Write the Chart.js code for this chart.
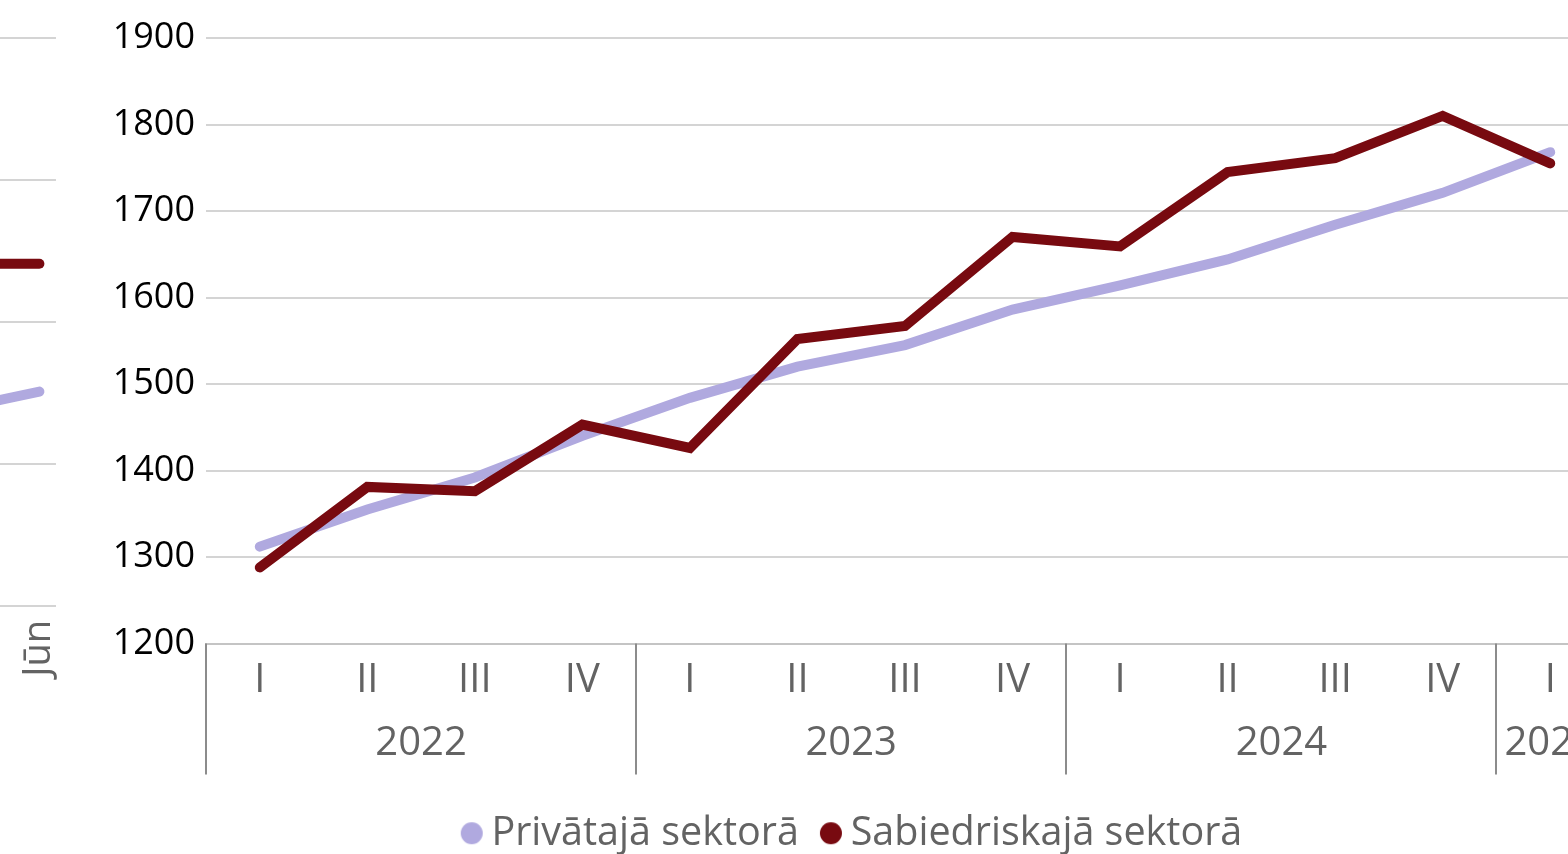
<!DOCTYPE html>
<html>
<head>
<meta charset="utf-8">
<script src="https://cdn.jsdelivr.net/npm/chart.js@4"></script>
<style>
  html, body { margin: 0; padding: 0; background: #fff; width: 1568px; height: 854px; overflow: hidden; position: relative; }
  #leftWrap { position: absolute; left: -209px; top: 0; width: 300px; height: 854px; }
  #mainWrap { position: absolute; left: 60px; top: 0; width: 1572px; height: 854px; }
</style>
</head>
<body>
<div id="leftWrap"><canvas id="leftChart" width="300" height="854"></canvas></div>
<div id="mainWrap"><canvas id="mainChart" width="1572" height="854"></canvas></div>
<script>
// ---- main chart data ----
const quarters = ['I','II','III','IV','I','II','III','IV','I','II','III','IV','I'];
const years = ['2022','2023','2024','2025'];
const yearSpans = [4, 4, 4, 1];
const privateSector = [1312,1355,1392,1440,1484,1520,1545,1586,1614,1644,1684,1721,1768];
const publicSector = [1288,1381,1376,1453,1426,1552,1567,1670,1659,1745,1761,1810,1755];
const yTicks = [1200,1300,1400,1500,1600,1700,1800,1900];

// ---- fragment of neighbouring chart (left edge) ----
const leftMonths = ['Nov','Dec','Jan','Feb','Mar','Apr','Mai','Jūn'];
const leftPrivate = [null,null,null,null,null,1.41,1.46,1.51];
const leftPublic = [null,null,null,null,null,2.41,2.41,2.41];

const FONT = '"Open Sans", "Noto Sans", sans-serif';
const PURPLE = '#b0a9df';
const RED = '#780a10';
const GRID = '#d4d4d4';
const AXISGREY = '#8c8c8c';
const TEXTGREY = '#636363';
const LW = 10;

Chart.defaults.font.family = FONT;
Chart.defaults.animation = false;

// legend marker: 22px circle shifted right inside its image
function marker(color) {
  const c = document.createElement('canvas');
  c.width = 46; c.height = 24;
  const g = c.getContext('2d');
  g.fillStyle = color;
  g.beginPath();
  g.arc(34, 12, 11, 0, Math.PI * 2);
  g.fill();
  return c;
}
const markers = [marker(PURPLE), marker(RED)];

// Left fragment chart (labels shown every second month)
new Chart(document.getElementById('leftChart'), {
  type: 'line',
  data: {
    labels: leftMonths,
    datasets: [
      { label: 'a', data: leftPublic, borderColor: RED, borderWidth: LW, pointRadius: 0, borderCapStyle: 'round', order: 0 },
      { label: 'b', data: leftPrivate, borderColor: PURPLE, borderWidth: LW, pointRadius: 0, borderCapStyle: 'round', order: 1 }
    ]
  },
  options: {
    responsive: false,
    animation: false,
    layout: { padding: { top: 38, left: 0, right: 0, bottom: 0 } },
    plugins: { legend: { display: false }, tooltip: { enabled: false } },
    scales: {
      x: {
        offset: true,
        grid: { display: false },
        border: { display: true, color: GRID, width: 2 },
        ticks: { color: TEXTGREY, font: { size: 38 }, minRotation: 90, maxRotation: 90, padding: 6, autoSkip: false,
                 callback: function (v, i) { return (leftMonths.length - 1 - i) % 2 === 0 ? this.getLabelForValue(v) : ''; } },
        afterFit: (s) => { s.height = 248; }
      },
      y: {
        min: 0, max: 4,
        ticks: { display: false, stepSize: 1 },
        grid: { color: GRID, lineWidth: 2, drawTicks: false },
        border: { display: false },
        afterFit: (s) => { s.width = 0; }
      }
    }
  }
});

// plugin: year group labels and dividers
const groupAxis = {
  id: 'groupAxis',
  afterDraw(chart) {
    const x = chart.scales.x;
    const ctx = chart.ctx;
    const band = x.getPixelForValue(1) - x.getPixelForValue(0);
    const top = chart.chartArea.bottom;
    ctx.save();
    ctx.strokeStyle = AXISGREY;
    ctx.lineWidth = 2;
    let idx = 0;
    const drawDiv = (px) => {
      ctx.beginPath();
      ctx.moveTo(Math.round(px), top);
      ctx.lineTo(Math.round(px), top + 131);
      ctx.stroke();
    };
    ctx.fillStyle = TEXTGREY;
    ctx.font = '40px ' + FONT;
    ctx.textAlign = 'center';
    ctx.textBaseline = 'middle';
    years.forEach((yr, g) => {
      const first = idx, last = idx + yearSpans[g] - 1;
      const p0 = x.getPixelForValue(first), p1 = x.getPixelForValue(last);
      drawDiv(p0 - band / 2);
      ctx.fillText(yr, (p0 + p1) / 2, top + 100);
      idx += yearSpans[g];
    });
    drawDiv(x.getPixelForValue(idx - 1) + band / 2);
    ctx.restore();
  }
};

new Chart(document.getElementById('mainChart'), {
  type: 'line',
  data: {
    labels: quarters,
    datasets: [
      { label: 'Privātajā sektorā', data: privateSector, borderColor: PURPLE, backgroundColor: PURPLE,
        borderWidth: LW, pointRadius: 0, borderCapStyle: 'round', borderJoinStyle: 'miter', order: 1 },
      { label: 'Sabiedriskajā sektorā', data: publicSector, borderColor: RED, backgroundColor: RED,
        borderWidth: LW, pointRadius: 0, borderCapStyle: 'round', borderJoinStyle: 'miter', order: 0 }
    ]
  },
  options: {
    responsive: false,
    animation: false,
    layout: { padding: { top: 38, left: 0, right: 0, bottom: -9 } },
    plugins: {
      tooltip: { enabled: false },
      legend: {
        position: 'bottom',
        labels: {
          color: TEXTGREY,
          font: { size: 39.5 },
          usePointStyle: true,
          boxHeight: 22,
          pointStyleWidth: 22,
          padding: 10,
          generateLabels: (chart) => chart.data.datasets.map((ds, i) => ({
            text: ds.label, fillStyle: ds.borderColor, strokeStyle: ds.borderColor,
            lineWidth: 0, pointStyle: markers[i], datasetIndex: i, hidden: false,
            fontColor: TEXTGREY
          }))
        }
      }
    },
    scales: {
      x: {
        offset: true,
        grid: { display: false },
        border: { display: true, color: '#c4c4c4', width: 2 },
        ticks: { color: TEXTGREY, font: { size: 40 }, padding: 5, autoSkip: false, maxRotation: 0 },
        afterFit: (s) => { s.height = 160; }
      },
      y: {
        min: 1200, max: 1900,
        afterBuildTicks: (s) => { s.ticks = yTicks.map(v => ({ value: v })); },
        ticks: { color: '#000', font: { size: 36 }, padding: 11, callback: (v) => String(v) },
        grid: { color: GRID, lineWidth: 2, drawTicks: false },
        border: { display: false },
        afterFit: (s) => { s.width = 146; }
      },
      yRight: {
        position: 'right',
        display: true,
        ticks: { display: false },
        grid: { display: false, drawTicks: false },
        border: { display: false },
        afterFit: (s) => { s.width = 28; }
      }
    }
  },
  plugins: [groupAxis]
});
</script>
</body>
</html>
